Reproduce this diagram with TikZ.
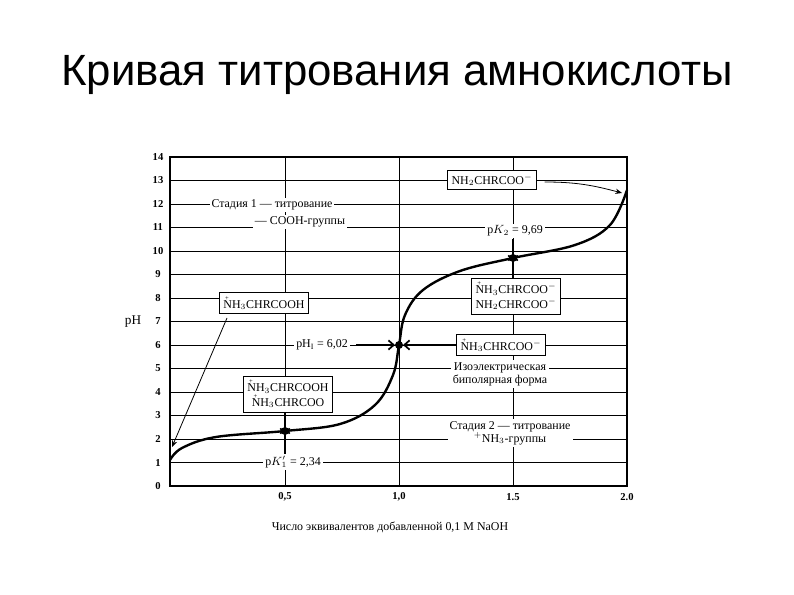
\documentclass[tikz,border=0pt]{standalone}
\usepackage{fontspec}
\setmainfont{Liberation Serif}
\newfontfamily\titlefont{Liberation Sans}
\usetikzlibrary{arrows.meta}
\newcommand{\NP}{\makebox[0pt][l]{\raisebox{1.45ex}{\hspace{0.15em}\fontsize{5}{5}\selectfont+}}N}
\begin{document}
\begin{tikzpicture}[x=0.0265cm,y=-0.0265cm,
  grid/.style={black,line width=0.6pt},
  lbox/.style={draw,fill=white,inner sep=3pt,font=\fontsize{9}{11}\selectfont,align=center},
  lab/.style={fill=white,inner sep=1.5pt,font=\fontsize{9}{10}\selectfont,align=center},
  tick/.style={font=\fontsize{8}{9}\selectfont\bfseries},
  arr/.style={-{Stealth[length=5pt,width=4pt]},line width=0.6pt},
  parr/.style={-{Straight Barb[length=4pt,width=7pt]},line width=1.3pt}]
\useasboundingbox (0,0) rectangle (794,595);
\node[font=\titlefont\fontsize{33}{38}\selectfont] (title) at (397,75) {Кривая титрования амнокислоты};
% grid
\foreach \i in {1,...,13} \draw[grid] (170,486-23.5*\i) -- (627,486-23.5*\i);
\foreach \xx in {285,399,513} \draw[grid] (\xx,157) -- (\xx,486);
\draw[line width=0.8pt] (170,157) -- (170,486) -- (627,486) -- (627,157) -- cycle;
\foreach \i in {0,...,14} \node[tick] (t\i) at (158,486-23.5*\i) {\i};
\node[tick] (x1) at (285,497) {0,5};
\node[tick] (x2) at (399,497) {1,0};
\node[tick] (x3) at (513,497) {1.5};
\node[tick] (x4) at (627,497) {2.0};
\node[font=\fontsize{10}{11}\selectfont] (ph) at (133,322) {pH};
\node[font=\fontsize{9}{10}\selectfont] (xl) at (390,527) {Число эквивалентов добавленной 0,1 M NaOH};
% curve
\draw[line width=1.8pt] plot[smooth,tension=0.6] coordinates {
 (170,460) (182,448) (216,437) (285,431) (340,424) (375,405) (393,375) (399,345) (405,315) (423,290) (460,271) (513,258) (575,245) (610,225) (627,190)};
\coordinate (pa) at (285,431);
\coordinate (pb) at (399,345);
\coordinate (pc) at (513,258);
\fill (pa) circle (3pt) (pb) circle (3pt) (pc) circle (3pt);
% labels
\node[lbox] (b1) at (492,180) {NH$_2$CHRCOO$^-$};
\coordinate (e1) at (622,193);
\draw[arr] (b1.east) ++(8,2) to[out=0,in=165] (e1);
\node[lab] (s1) at (272,205) {Стадия 1 --- титрование};
\node[lab] (s1b) at (300,222) {--- COOH-группы};
\node[lab] (k2) at (515,231) {p$K_2$ = 9,69};
\draw[parr] (k2.south -| pc) -- ([yshift=-3pt]pc);
\node[lbox] (b2) at (516,296) {\NP H$_3$CHRCOO$^-$\\NH$_2$CHRCOO$^-$};
\draw[parr] (b2.north -| pc) -- ([yshift=3pt]pc);
\node[lbox] (b3) at (264,303) {\NP H$_3$CHRCOOH};
\coordinate (e3) at (172,447);
\draw[arr] (227,318) -- (e3);
\node[lab] (ki) at (322,345) {pH$_\mathrm{I}$ = 6,02};
\draw[parr] (ki.east) ++(6,0) -- ([xshift=-3pt]pb);
\node[lbox] (b4) at (501,345) {\NP H$_3$CHRCOO$^-$};
\draw[parr] (b4.west) -- ([xshift=3pt]pb);
\node[lab] (iso) at (500,374) {Изоэлектрическая\\биполярная форма};
\node[lbox] (b5) at (288,394) {\NP H$_3$CHRCOOH\\\NP H$_3$CHRCOO};
\draw[parr] (b5.south -| pa) -- ([yshift=-3pt]pa);
\node[lab] (k1) at (293,462) {p$K_1'$ = 2,34};
\draw[parr] (k1.north -| pa) -- ([yshift=3pt]pa);
\node[lab] (s2) at (510,433) {Стадия 2 --- титрование\\$^+$NH$_3$-группы};
\end{tikzpicture}
\end{document}
